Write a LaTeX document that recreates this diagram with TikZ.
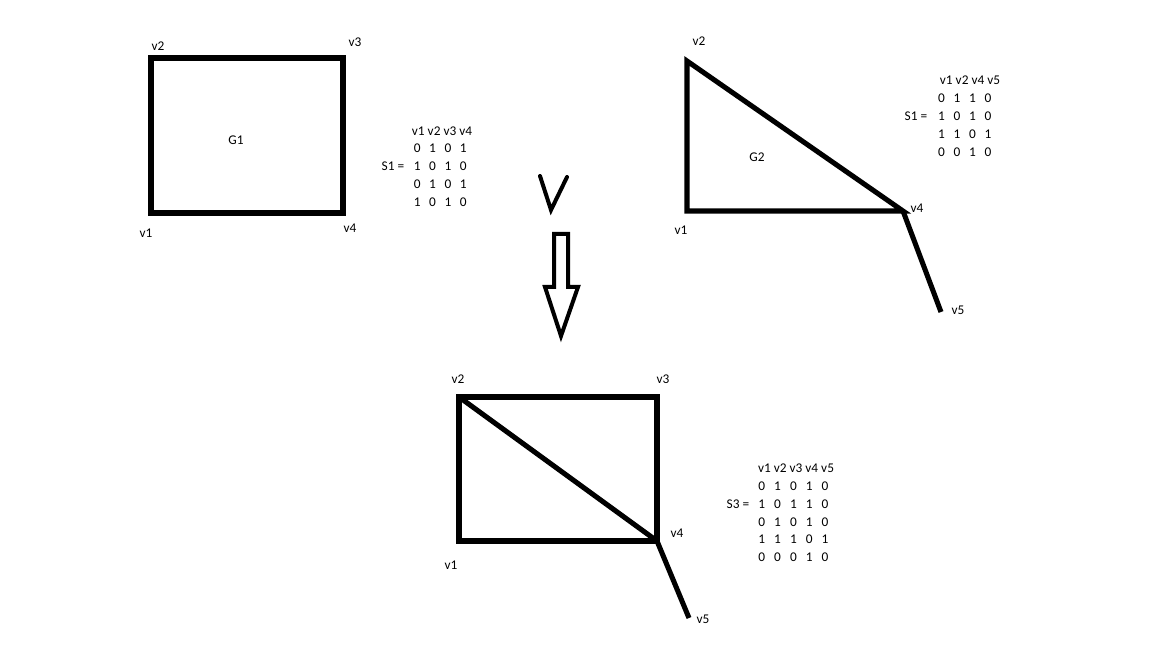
\documentclass[tikz,border=0pt]{standalone}
\usepackage{fontspec}
\setmainfont{Carlito}
\begin{document}
\begin{tikzpicture}[x=0.75pt,y=-0.75pt,
  edge/.style={line width=3.8pt,line join=miter},
  lbl/.style={font=\fontsize{10}{12}\selectfont,inner sep=0pt,anchor=center},
  thick4/.style={line width=3pt,line join=miter}]
\useasboundingbox[fill=white] (0,0) rectangle (1152,648);
% G1
\coordinate (a1) at (151,213); \coordinate (a2) at (151,58);
\coordinate (a3) at (343,58); \coordinate (a4) at (343,213);
\draw[edge] (a1) -- (a2) -- (a3) -- (a4) -- cycle;
\node[lbl] (la2) at (158,46) {v2};
\node[lbl] (la3) at (355,42) {v3};
\node[lbl] (la1) at (146,233) {v1};
\node[lbl] (la4) at (350,228) {v4};
\node[lbl] (g1) at (236,140) {G1};
% S1 matrix
\node[lbl] (h1) at (442,131) {v1 v2 v3 v4};
\node[lbl] (s1) at (393,166) {S1 =};
\foreach \r [count=\i] in {{0,1,0,1},{1,0,1,0},{0,1,0,1},{1,0,1,0}}{
  \foreach \v [count=\j] in \r {
    \node[lbl] (m1-\i-\j) at ({402+15.3*\j},{130+18*\i}) {\v};
  }
}
% V and hollow arrow
\coordinate (va) at (540,176); \coordinate (vb) at (551,210); \coordinate (vc) at (567,177);
\draw[thick4,line cap=round] (va) -- (vb) -- (vc);
\coordinate (p1) at (554,234); \coordinate (p2) at (568,234); \coordinate (p3) at (568,287);
\coordinate (p4) at (578,287); \coordinate (p5) at (561,336); \coordinate (p6) at (545,287);
\coordinate (p7) at (554,287);
\draw[thick4] (p1) -- (p2) -- (p3) -- (p4) -- (p5) -- (p6) -- (p7) -- cycle;
% G2
\coordinate (b1) at (687,211); \coordinate (b2) at (687,61);
\coordinate (b4) at (903,211); \coordinate (b5) at (941,312);
\draw[edge] (b4) -- (b2) -- (b1) -- cycle;
\draw[edge] (b4) -- (b5);
\node[lbl] (lb2) at (699,41) {v2};
\node[lbl] (lb1) at (681,230) {v1};
\node[lbl] (lb4) at (917,208) {v4};
\node[lbl] (lb5) at (958,310) {v5};
\node[lbl] (g2) at (757,157) {G2};
% S1 second
\node[lbl] (h2) at (970,80) {v1 v2 v4 v5};
\node[lbl] (s2) at (916,116) {S1 =};
\foreach \r [count=\i] in {{0,1,1,0},{1,0,1,0},{1,1,0,1},{0,0,1,0}}{
  \foreach \v [count=\j] in \r {
    \node[lbl] (m2-\i-\j) at ({926+15.5*\j},{80+18*\i}) {\v};
  }
}
% Bottom graph
\coordinate (c1) at (459,541); \coordinate (c2) at (459,397);
\coordinate (c3) at (657,397); \coordinate (c4) at (657,541);
\coordinate (c5) at (689,618);
\draw[edge] (c1) -- (c2) -- (c3) -- (c4) -- cycle;
\draw[edge] (c2) -- (c4);
\draw[edge] (c4) -- (c5);
\node[lbl] (lc2) at (458,379) {v2};
\node[lbl] (lc3) at (663,379) {v3};
\node[lbl] (lc1) at (451,565) {v1};
\node[lbl] (lc4) at (677,533) {v4};
\node[lbl] (lc5) at (703,619) {v5};
% S3
\node[lbl] (h3) at (796,468) {v1 v2 v3 v4 v5};
\node[lbl] (s3) at (738,504) {S3 =};
\foreach \r [count=\i] in {{0,1,0,1,0},{1,0,1,1,0},{0,1,0,1,0},{1,1,1,0,1},{0,0,0,1,0}}{
  \foreach \v [count=\j] in \r {
    \node[lbl] (m3-\i-\j) at ({746+15.8*\j},{469+17.6*\i}) {\v};
  }
}
\end{tikzpicture}
\end{document}
